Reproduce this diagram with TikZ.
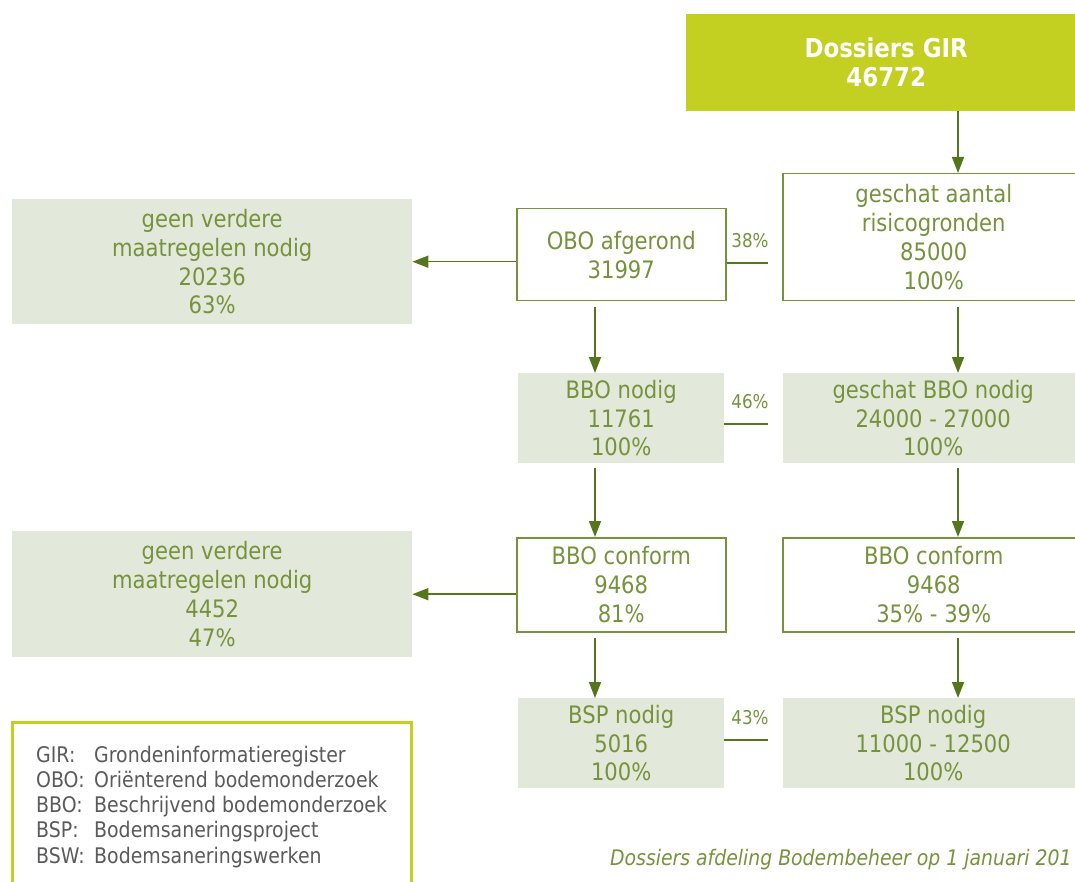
\documentclass[tikz,border=0pt]{standalone}
\usepackage{fontspec}
\setmainfont[FakeStretch=0.88]{DejaVu Sans}
\usetikzlibrary{arrows.meta,calc}
\definecolor{gir}{HTML}{C3CF21}
\definecolor{lite}{HTML}{E3E9DA}
\definecolor{olv}{HTML}{76923C}
\definecolor{arr}{HTML}{56761E}
\definecolor{legtxt}{HTML}{5A5A5A}
\begin{document}
\begin{tikzpicture}[x=1pt,y=-1pt,
  boxtxt/.style={text=olv, align=center, inner sep=0pt, anchor=north west, font=\fontsize{24}{28.8}\selectfont},
  boxw/.style={boxtxt, draw=olv, line width=1.5pt, fill=white},
  boxf/.style={boxtxt, fill=lite},
  flow/.style={draw=arr, line width=1.6pt, -{Triangle[length=16pt,width=12pt]}},
  link/.style={draw=arr, line width=1.5pt},
  pct/.style={text=olv, inner sep=0pt, font=\fontsize{19}{22}\selectfont},
  legline/.style={text=legtxt, inner sep=0pt, anchor=base west, font=\fontsize{21.5}{25}\selectfont}
]
\useasboundingbox (0,0) rectangle (1075,882);
\clip (0,0) rectangle (1075,882);

\node[fill=gir, text=white, align=center, inner sep=0pt, anchor=north west,
      minimum width=400, minimum height=97, font=\bfseries\fontsize{26}{29}\selectfont]
      (gir) at (686,14) {Dossiers GIR\\46772};

\node[boxw, minimum width=302, minimum height=127] (aantal) at (782,173)
  {geschat aantal\\risicogronden\\85000\\100\%};
\node[boxw, minimum width=209, minimum height=92] (obo) at (516,208)
  {OBO afgerond\\31997};
\node[boxf, minimum width=400, minimum height=125] (geen1) at (12,199)
  {geen verdere\\maatregelen nodig\\20236\\63\%};

\node[boxf, minimum width=206, minimum height=90] (bbon) at (518,373)
  {BBO nodig\\11761\\100\%};
\node[boxf, minimum width=300, minimum height=90] (gbbo) at (783,373)
  {geschat BBO nodig\\24000 - 27000\\100\%};

\node[boxw, minimum width=209, minimum height=94] (bbocl) at (516,537)
  {BBO conform\\9468\\81\%};
\node[boxw, minimum width=302, minimum height=94] (bbocr) at (782,537)
  {BBO conform\\9468\\35\% - 39\%};
\node[boxf, minimum width=400, minimum height=126] (geen2) at (12,531)
  {geen verdere\\maatregelen nodig\\4452\\47\%};

\node[boxf, minimum width=206, minimum height=90] (bspl) at (518,698)
  {BSP nodig\\5016\\100\%};
\node[boxf, minimum width=300, minimum height=90] (bspr) at (783,698)
  {BSP nodig\\11000 - 12500\\100\%};

% columns of the vertical arrows
\coordinate (colL) at (595,0);
\coordinate (colR) at (958,0);

\draw[flow] (gir.south -| colR) -- (aantal.north -| colR);
\draw[flow, shorten <=5pt] (aantal.south -| colR) -- (gbbo.north -| colR);
\draw[flow, shorten <=5pt] (gbbo.south -| colR) -- (bbocr.north -| colR);
\draw[flow, shorten <=5pt] (bbocr.south -| colR) -- (bspr.north -| colR);

\draw[flow, shorten <=5pt] (obo.south -| colL) -- (bbon.north -| colL);
\draw[flow, shorten <=5pt] (bbon.south -| colL) -- (bbocl.north -| colL);
\draw[flow, shorten <=5pt] (bbocl.south -| colL) -- (bspl.north -| colL);

\draw[flow] (obo.west |- geen1.east) -- (geen1.east);
\draw[flow] (bbocl.west |- geen2.east) -- (geen2.east);

% percentage links
\coordinate (l38) at (768,263);
\coordinate (l46) at (768,424);
\coordinate (l43) at (768,740);
\draw[link] (obo.east |- l38) -- (l38);
\draw[link] (bbon.east |- l46) -- (l46);
\draw[link] (bspl.east |- l43) -- (l43);
\node[pct] (p38) at (750,241) {38\%};
\node[pct] (p46) at (750,402) {46\%};
\node[pct] (p43) at (750,718) {43\%};

% legend
\node[draw=gir, line width=2.5pt, minimum width=399, minimum height=300, anchor=north west, inner sep=0pt] (legend) at (11,721) {};
\node[legline] (lg1) at (36,762) {\makebox[58pt][l]{GIR:}Grondeninformatieregister};
\node[legline] (lg2) at (36,787.3) {\makebox[58pt][l]{OBO:}Oriënterend bodemonderzoek};
\node[legline] (lg3) at (36,812.5) {\makebox[58pt][l]{BBO:}Beschrijvend bodemonderzoek};
\node[legline] (lg4) at (36,837.8) {\makebox[58pt][l]{BSP:}Bodemsaneringsproject};
\node[legline] (lg5) at (36,863) {\makebox[58pt][l]{BSW:}Bodemsaneringswerken};

\node[text=olv, inner sep=0pt, anchor=base west, font=\itshape\fontsize{21.4}{24}\selectfont] (caption) at (610,865)
  {Dossiers afdeling Bodembeheer op 1 januari 201};
\end{tikzpicture}
\end{document}
